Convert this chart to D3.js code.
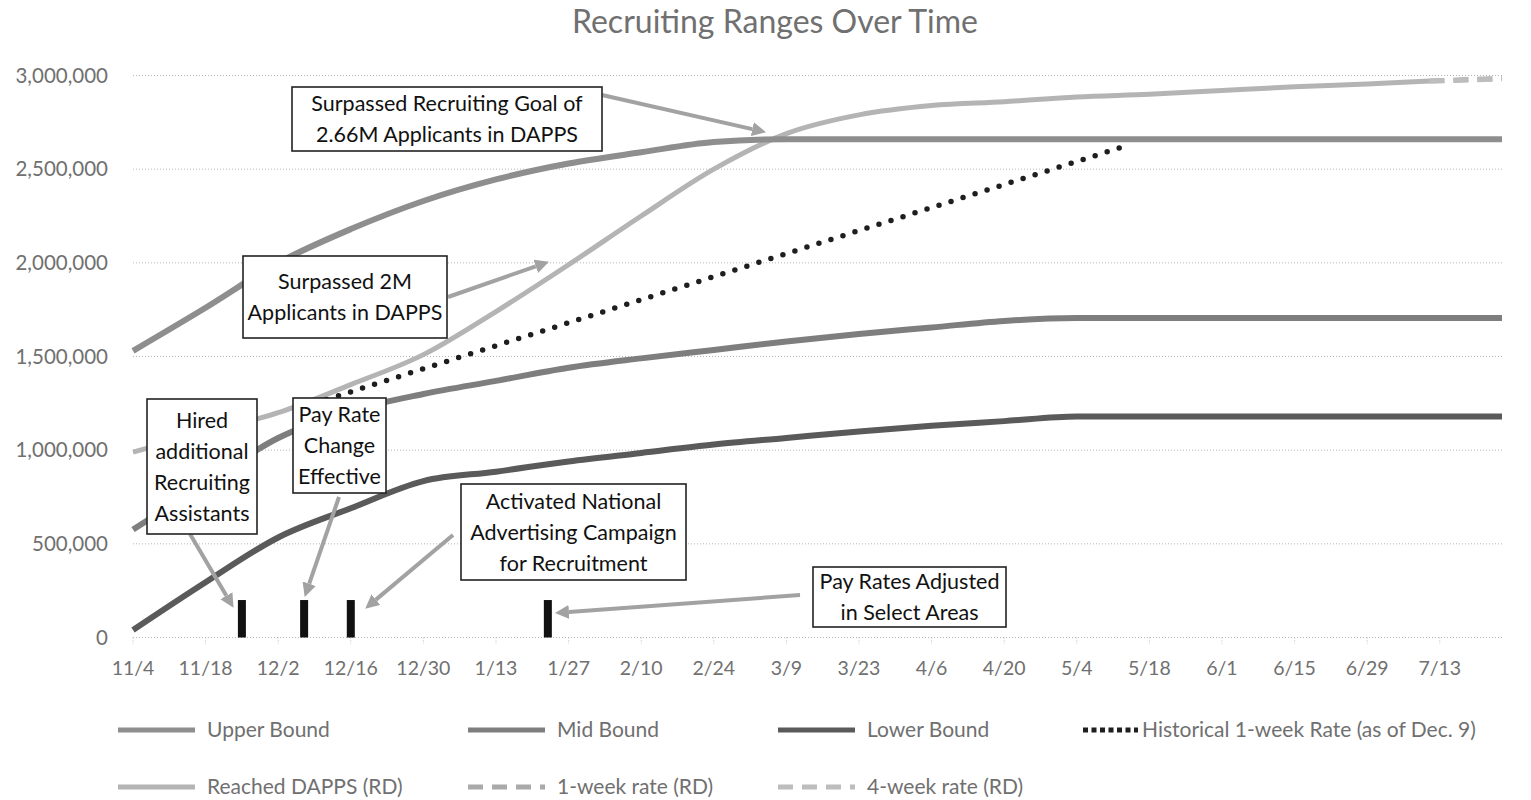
<!DOCTYPE html>
<html><head><meta charset="utf-8">
<script src="https://cdn.jsdelivr.net/npm/d3@7"></script>
<style>body{margin:0;background:#fff} svg{display:block}</style>
</head><body><svg id="c" width="1531" height="800"></svg>
<script>
// ---------------- data ----------------
const boundDates = ["2019-11-04","2019-11-18","2019-12-02","2019-12-16","2019-12-30","2020-01-13","2020-01-27","2020-02-10","2020-02-24","2020-03-09","2020-03-23","2020-04-06","2020-04-20","2020-05-04","2020-05-18","2020-06-01","2020-06-15","2020-06-29","2020-07-13","2020-07-25"];
const upperBound = [1530000,1760000,2000000,2180000,2330000,2445000,2530000,2590000,2645000,2660000,2660000,2660000,2660000,2660000,2660000,2660000,2660000,2660000,2660000,2660000];
const midBound   = [576000,824000,1065000,1210000,1300000,1370000,1440000,1490000,1535000,1580000,1620000,1655000,1690000,1705000,1705000,1705000,1705000,1705000,1705000,1705000];
const lowerBound = [40000,295000,534000,690000,835000,885000,940000,985000,1030000,1065000,1100000,1130000,1155000,1180000,1180000,1180000,1180000,1180000,1180000,1180000];

const reachedDates = ["2019-11-04","2019-11-18","2019-12-02","2019-12-16","2019-12-30","2020-01-13","2020-01-27","2020-02-10","2020-02-24","2020-03-09","2020-03-23","2020-04-06","2020-04-20","2020-05-04","2020-05-18","2020-06-01","2020-06-15","2020-06-29","2020-07-11"];
const reachedDAPPS = [990000,1095000,1200000,1350000,1510000,1740000,1990000,2250000,2500000,2690000,2790000,2840000,2860000,2885000,2900000,2920000,2940000,2955000,2970000];

const rateDates = ["2020-07-11","2020-07-25"];
const oneWeekRate  = [2970000,2985000];
const fourWeekRate = [2970000,2982000];

const histDates = ["2019-12-09","2020-05-13"];
const histRate  = [1250000,2620000];

const eventDates  = ["2019-11-25","2019-12-07","2019-12-16","2020-01-23"];
const eventValues = [200000,200000,200000,200000];

const yTicks = [0,500000,1000000,1500000,2000000,2500000,3000000];
const xTickDates = ["2019-11-04","2019-11-18","2019-12-02","2019-12-16","2019-12-30","2020-01-13","2020-01-27","2020-02-10","2020-02-24","2020-03-09","2020-03-23","2020-04-06","2020-04-20","2020-05-04","2020-05-18","2020-06-01","2020-06-15","2020-06-29","2020-07-13"];
const axisStart = "2019-11-04", axisEnd = "2020-07-25";

const title = "Recruiting Ranges Over Time";
const annotations = [
  {lines:["Surpassed Recruiting Goal of","2.66M Applicants in DAPPS"], box:[292,87,602,151], arrow:[[602,95],[765,132]]},
  {lines:["Surpassed 2M","Applicants in DAPPS"], box:[243,256,447,338], arrow:[[448,297],[548,262]]},
  {lines:["Hired","additional","Recruiting","Assistants"], box:[147,399,257,534], arrow:[[190,534],[233,607]]},
  {lines:["Pay Rate","Change","Effective"], box:[293,398,386,493], arrow:[[339,497],[305,596]]},
  {lines:["Activated National","Advertising Campaign","for Recruitment"], box:[461,484,686,580], arrow:[[453,535],[366,608]]},
  {lines:["Pay Rates Adjusted","in Select Areas"], box:[813,567,1006,627], arrow:[[800,595],[556,613]]}
];

// ---------------- drawing ----------------
const parse = d3.utcParse("%Y-%m-%d");
const svg = d3.select("#c");
const FONT = "Lato, 'Open Sans', sans-serif";
const GRAYTXT = "#707070";
const x = d3.scaleUtc().domain([parse(axisStart), parse(axisEnd)]).range([133, 1502]);
const y = d3.scaleLinear().domain([0, 3000000]).range([637.5, 75.5]);

svg.append("text").attr("x", 775).attr("y", 33).attr("text-anchor","middle")
  .attr("font-family", FONT).attr("font-size", 32).attr("fill",GRAYTXT).text(title);

// gridlines
const grid = svg.append("g");
grid.selectAll("line").data(yTicks).join("line")
  .attr("x1", 133).attr("x2", 1502).attr("y1", d=>y(d)).attr("y2", d=>y(d))
  .attr("stroke","#b5b5b5").attr("stroke-width",1).attr("stroke-dasharray","1 2");
// y labels
svg.append("g").selectAll("text").data(yTicks).join("text")
  .attr("x",108).attr("y",d=>y(d)).attr("dy","0.35em").attr("text-anchor","end")
  .attr("font-family",FONT).attr("font-size",20.5).attr("fill",GRAYTXT)
  .text(d=>d3.format(",")(d));
// x ticks + labels
const xt = svg.append("g");
xt.selectAll("line").data(xTickDates).join("line")
  .attr("x1",d=>x(parse(d))).attr("x2",d=>x(parse(d))).attr("y1",637.5).attr("y2",644)
  .attr("stroke","#b5b5b5").attr("stroke-dasharray","1 2");
xt.selectAll("text").data(xTickDates).join("text")
  .attr("x",d=>x(parse(d))).attr("y",668).attr("dy","0.35em").attr("text-anchor","middle")
  .attr("font-family",FONT).attr("font-size",19.5).attr("fill",GRAYTXT)
  .text(d=>d3.utcFormat("%-m/%-d")(parse(d)));

// series definitions
const series = [
  {name:"Upper Bound", dates:boundDates, values:upperBound, color:"#8e8e8e", width:6, dash:null},
  {name:"Mid Bound", dates:boundDates, values:midBound, color:"#7e7e7e", width:6, dash:null},
  {name:"Lower Bound", dates:boundDates, values:lowerBound, color:"#5a5a5a", width:6, dash:null},
  {name:"Historical 1-week Rate (as of Dec. 9)", dates:histDates, values:histRate, color:"#1e1e1e", width:5.5, dash:"0 12.6", cap:"round"},
  {name:"Reached DAPPS (RD)", dates:reachedDates, values:reachedDAPPS, color:"#b4b4b4", width:5, dash:null},
  {name:"1-week rate (RD)", dates:rateDates, values:oneWeekRate, color:"#a9a9a9", width:5, dash:"15 9"},
  {name:"4-week rate (RD)", dates:rateDates, values:fourWeekRate, color:"#bdbdbd", width:5, dash:"15 9"}
];
const line = d3.line().x(d=>x(d[0])).y(d=>y(d[1])).curve(d3.curveMonotoneX);
const drawOrder = [4,5,6,0,1,2,3];
const lg = svg.append("g");
drawOrder.forEach(i=>{
  const s = series[i];
  const pts = s.dates.map((d,k)=>[parse(d), s.values[k]]);
  lg.append("path").attr("d", line(pts)).attr("fill","none")
    .attr("stroke", s.color).attr("stroke-width", s.width)
    .attr("stroke-linecap", s.cap || "butt").attr("stroke-linejoin","round")
    .attr("stroke-dasharray", s.dash);
});

// event bars
svg.append("g").selectAll("rect").data(eventDates.map((d,i)=>[parse(d),eventValues[i]])).join("rect")
  .attr("x",d=>x(d[0])-4).attr("width",8).attr("y",d=>y(d[1])).attr("height",d=>y(0)-y(d[1]))
  .attr("fill","#111");

// arrow marker
const defs = svg.append("defs");
defs.append("marker").attr("id","ah").attr("viewBox","0 0 10 10").attr("refX",0).attr("refY",5)
  .attr("markerWidth",14).attr("markerHeight",14).attr("markerUnits","userSpaceOnUse").attr("orient","auto")
  .append("path").attr("d","M0,0 L10,5 L0,10 z").attr("fill","#a2a2a2");

// annotations
const ag = svg.append("g");
annotations.forEach(a=>{
  const [p0,p1] = a.arrow;
  const dx=p1[0]-p0[0], dy=p1[1]-p0[1], L=Math.hypot(dx,dy);
  const e=[p1[0]-dx/L*13, p1[1]-dy/L*13];
  ag.append("line").attr("x1",p0[0]).attr("y1",p0[1]).attr("x2",e[0]).attr("y2",e[1])
    .attr("stroke","#a2a2a2").attr("stroke-width",4).attr("marker-end","url(#ah)");
});
annotations.forEach(a=>{
  const [x0,y0,x1,y1]=a.box;
  ag.append("rect").attr("x",x0).attr("y",y0).attr("width",x1-x0).attr("height",y1-y0)
    .attr("fill","#fff").attr("stroke","#222").attr("stroke-width",1.6);
  const lh = 31, cy=(y0+y1)/2, n=a.lines.length;
  a.lines.forEach((t,i)=>{
    ag.append("text").attr("x",(x0+x1)/2).attr("y",cy+(i-(n-1)/2)*lh).attr("dy","0.35em")
      .attr("text-anchor","middle").attr("font-family",FONT).attr("font-size",21.5).attr("fill","#111").text(t);
  });
});

// legend
const legendPos = [[118,730,77],[468,730,77],[778,730,77],[1083,730,55],[118,787,77],[468,787,77],[778,787,77]];
const leg = svg.append("g");
series.forEach((s,i)=>{
  const [lx,ly,len] = legendPos[i];
  const isHist = s.name.startsWith("Historical");
  leg.append("line").attr("x1",lx).attr("x2",lx+len).attr("y1",ly).attr("y2",ly)
    .attr("stroke",s.color).attr("stroke-width",5)
    .attr("stroke-dasharray", isHist ? "5 3.5" : (s.dash ? "15 9" : null));
  leg.append("text").attr("x", lx+len+(isHist?4:12)).attr("y",ly).attr("dy","0.35em")
    .attr("font-family",FONT).attr("font-size",21).attr("fill",GRAYTXT).text(s.name);
});
</script></body></html>
